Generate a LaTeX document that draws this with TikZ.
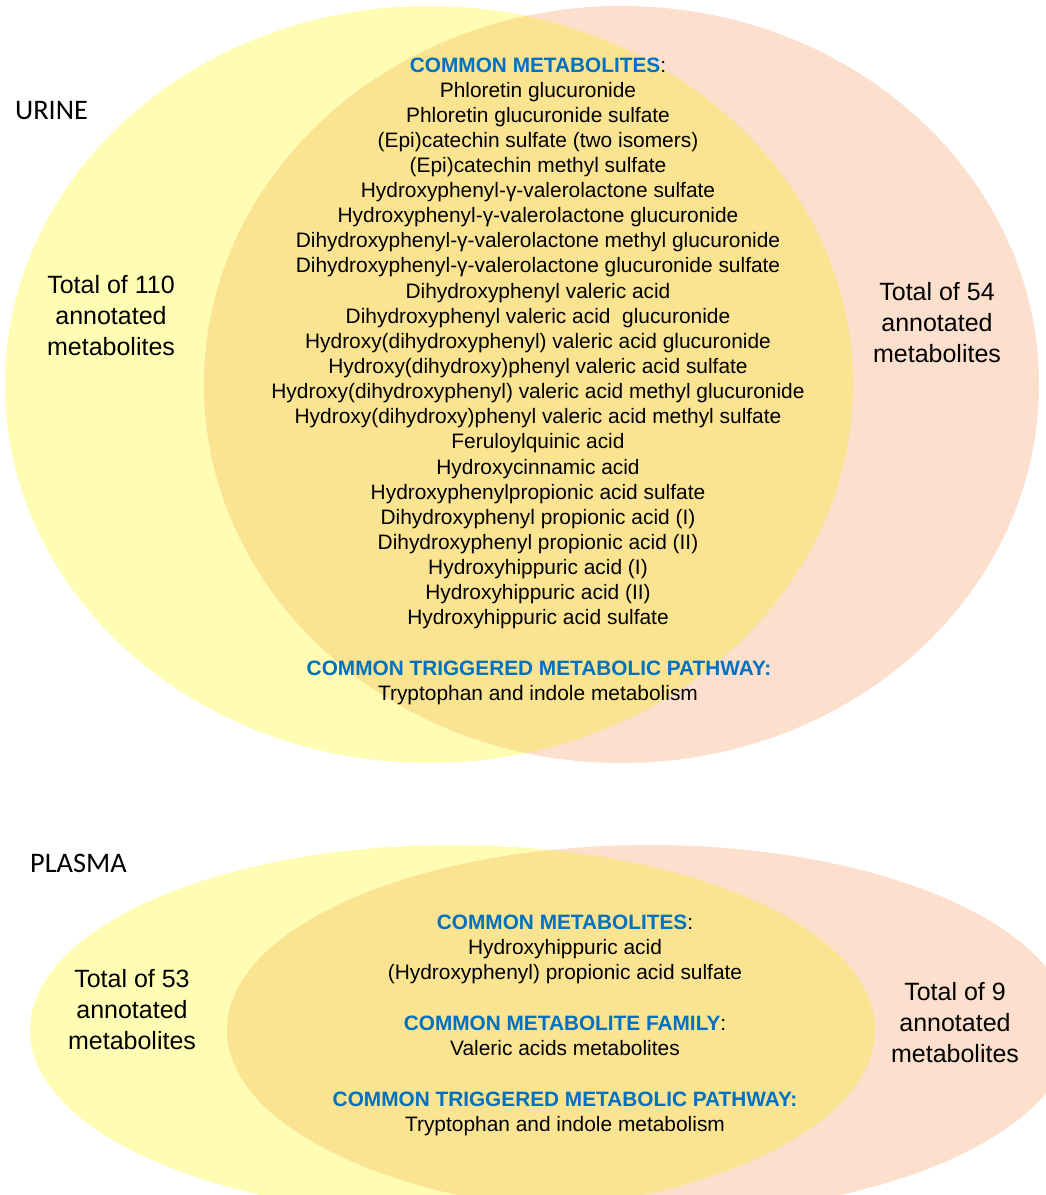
\documentclass[tikz,border=0pt]{standalone}
\usepackage{fontspec}
\setmainfont{Liberation Sans}
\newfontfamily\calfont{Carlito}
\definecolor{yel}{HTML}{FFFDB4}
\definecolor{sal}{HTML}{FCDFCC}
\definecolor{ovl}{HTML}{FBE491}
\definecolor{hblue}{HTML}{0070C0}
\tikzset{
  txt/.style={anchor=base, inner sep=0pt, font=\fontsize{20.9}{25}\selectfont},
  head/.style={anchor=base, inner sep=0pt, font=\fontsize{20.8}{25}\selectfont\bfseries, text=hblue},
  tot/.style={anchor=base, inner sep=0pt, font=\fontsize{25}{30}\selectfont},
  lab/.style={anchor=base west, inner sep=0pt, font=\calfont\fontsize{28.3}{33}\selectfont},
}
\begin{document}
\begin{tikzpicture}[x=1pt,y=-1pt]
\useasboundingbox (0,0) rectangle (1046,1195);
\fill[white] (0,0) rectangle (1046,1195);
\begin{scope}
\clip (0,0) rectangle (1046,1195);
% URINE Venn
\fill[yel] (429,384.5) ellipse [x radius=424, y radius=378.5];
\fill[sal] (621.5,384.5) ellipse [x radius=417.5, y radius=378.5];
\begin{scope}
\clip (429,384.5) ellipse [x radius=424, y radius=378.5];
\fill[ovl] (621.5,384.5) ellipse [x radius=417.5, y radius=378.5];
\end{scope}
% PLASMA Venn
\fill[yel] (452.5,1030) ellipse [x radius=422.5, y radius=185];
\fill[sal] (649,1030) ellipse [x radius=422, y radius=185];
\begin{scope}
\clip (452.5,1030) ellipse [x radius=422.5, y radius=185];
\fill[ovl] (649,1030) ellipse [x radius=422, y radius=185];
\end{scope}
\end{scope}

% labels
\node[lab] (urine) at (15,119) {URINE};
\node[lab] (plasma) at (30,872) {PLASMA};

% URINE texts
\node[head] (uh1) at (538,72) {COMMON METABOLITES\textcolor{black}{\mdseries :}};
\foreach \t [count=\i from 0] in {
  Phloretin glucuronide,
  Phloretin glucuronide sulfate,
  (Epi)catechin sulfate (two isomers),
  (Epi)catechin methyl sulfate,
  Hydroxyphenyl-γ-valerolactone sulfate,
  Hydroxyphenyl-γ-valerolactone glucuronide,
  Dihydroxyphenyl-γ-valerolactone methyl glucuronide,
  Dihydroxyphenyl-γ-valerolactone glucuronide sulfate,
  Dihydroxyphenyl valeric acid,
  Dihydroxyphenyl valeric acid\ \ glucuronide,
  Hydroxy(dihydroxyphenyl) valeric acid glucuronide,
  Hydroxy(dihydroxy)phenyl valeric acid sulfate,
  Hydroxy(dihydroxyphenyl) valeric acid methyl glucuronide,
  Hydroxy(dihydroxy)phenyl valeric acid methyl sulfate,
  Feruloylquinic acid,
  Hydroxycinnamic acid,
  Hydroxyphenylpropionic acid sulfate,
  Dihydroxyphenyl propionic acid (I),
  Dihydroxyphenyl propionic acid (II),
  Hydroxyhippuric acid (I),
  Hydroxyhippuric acid (II),
  Hydroxyhippuric acid sulfate}
  \node[txt] (um\i) at (538,{97+25.14*\i}) {\t};
\node[head] (uh2) at (539,675) {COMMON TRIGGERED METABOLIC PATHWAY:};
\node[txt] (up1) at (538,700) {Tryptophan and indole metabolism};

\node[tot] (ul1) at (111,293) {Total of 110};
\node[tot] (ul2) at (111,324) {annotated};
\node[tot] (ul3) at (111,355) {metabolites};
\node[tot] (ur1) at (937,300) {Total of 54};
\node[tot] (ur2) at (937,331) {annotated};
\node[tot] (ur3) at (937,362) {metabolites};

% PLASMA texts
\node[head] (ph1) at (565,929) {COMMON METABOLITES\textcolor{black}{\mdseries :}};
\node[txt] (pm1) at (565,954) {Hydroxyhippuric acid};
\node[txt] (pm2) at (565,979) {(Hydroxyphenyl) propionic acid sulfate};
\node[head] (ph2) at (565,1030) {COMMON METABOLITE FAMILY\textcolor{black}{\mdseries :}};
\node[txt] (pf1) at (565,1055) {Valeric acids metabolites};
\node[head] (ph3) at (565,1106) {COMMON TRIGGERED METABOLIC PATHWAY:};
\node[txt] (pp1) at (565,1131) {Tryptophan and indole metabolism};

\node[tot] (pl1) at (132,987) {Total of 53};
\node[tot] (pl2) at (132,1018) {annotated};
\node[tot] (pl3) at (132,1049) {metabolites};
\node[tot] (pr1) at (955,1000) {Total of 9};
\node[tot] (pr2) at (955,1031) {annotated};
\node[tot] (pr3) at (955,1062) {metabolites};
\end{tikzpicture}
\end{document}
